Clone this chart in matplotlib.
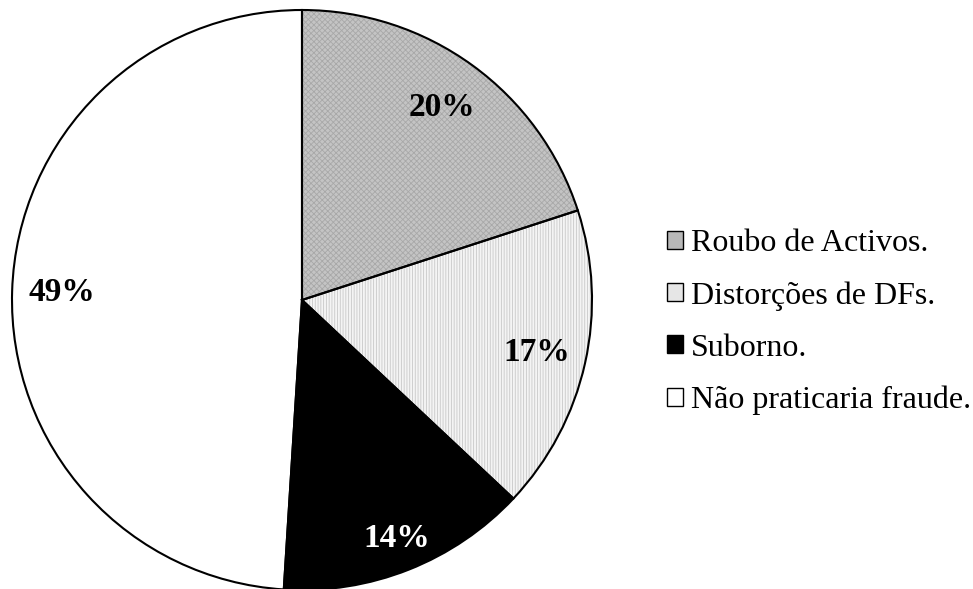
import matplotlib.pyplot as plt
from matplotlib.patches import Patch

labels = ['Roubo de Activos.', 'Distorções de DFs.', 'Suborno.', 'Não praticaria fraude.']
values = [20, 17, 14, 49]
pct_text = ['20%', '17%', '14%', '49%']
label_dist = [0.82, 0.83, 0.885, 0.83]

faces = ['#c4c4c4', '#f4f4f4', 'black', 'white']
hatches = ['xxxxxx', '||||||', None, None]
hatch_cols = ['#a8a8a8', '#c8c8c8', 'black', 'white']
text_cols = ['black', 'black', 'white', 'black']

plt.rcParams['font.family'] = ['Liberation Serif', 'DejaVu Serif']
plt.rcParams['hatch.linewidth'] = 0.6

fig = plt.figure(figsize=(9.73, 5.89), dpi=100)
ax = fig.add_axes([12 / 973, -1 / 589, 580 / 973, 580 / 589])

# fill layer with hatching (hatch takes the edge colour)
wedges, _ = ax.pie(values, startangle=90, counterclock=False, colors=faces,
                   wedgeprops=dict(linewidth=0))
for w, h, hc in zip(wedges, hatches, hatch_cols):
    w.set_edgecolor(hc)
    if h:
        w.set_hatch(h)

# outline layer
wedges2, texts = ax.pie(values, startangle=90, counterclock=False,
                        labels=pct_text, labeldistance=1.0,
                        wedgeprops=dict(fill=False, edgecolor='black', linewidth=1.5),
                        textprops=dict(fontsize=24, fontweight='bold'))
for t, c, d in zip(texts, text_cols, label_dist):
    x, y = t.get_position()
    t.set_position((x * d, y * d))
    t.set_color(c)
    t.set_ha('center')
    t.set_va('center')
ax.set_aspect('equal')
ax.set_xlim(-1.0, 1.0)
ax.set_ylim(-1.0, 1.0)

handles = []
for f in faces:
    handles.append(Patch(facecolor=f, edgecolor='black', linewidth=1.0))
handles[0].set_facecolor('#b8b8b8')
handles[1].set_facecolor('#e6e6e6')
fig.legend(handles, labels, loc='center left', bbox_to_anchor=(638 / 973, 1 - 322 / 589),
           frameon=False, fontsize=23, handlelength=0.5, handleheight=0.5,
           handletextpad=0.25, labelspacing=0.72)

fig.savefig('out.png', dpi=100)
